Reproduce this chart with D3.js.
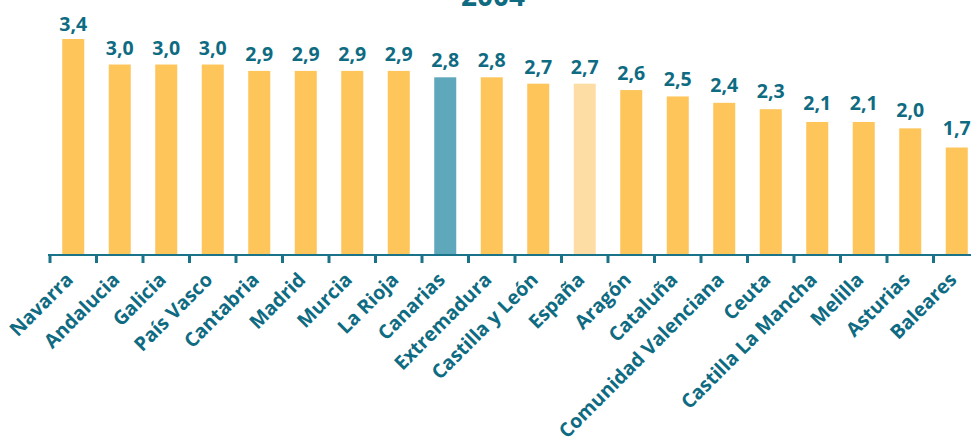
<!DOCTYPE html>
<html>
<head>
    <meta charset="utf-8">
    <script src="https://d3js.org/d3.v7.min.js"></script>
    <style>
        body { margin: 0; background: #fff; }
        svg text { font-family: 'Open Sans', 'Noto Sans', sans-serif; font-weight: 700; fill: #0e6b82; }
    </style>
</head>
<body>
<div id="chart"></div>
<script>
    // Data
    const regions = ["Navarra", "Andalucia", "Galicia", "País Vasco", "Cantabria", "Madrid", "Murcia",
        "La Rioja", "Canarias", "Extremadura", "Castilla y León", "España", "Aragón", "Cataluña",
        "Comunidad Valenciana", "Ceuta", "Castilla La Mancha", "Melilla", "Asturias", "Baleares"];
    const values = [3.4, 3.0, 3.0, 3.0, 2.9, 2.9, 2.9, 2.9, 2.8, 2.8, 2.7, 2.7, 2.6, 2.5, 2.4, 2.3, 2.1, 2.1, 2.0, 1.7];
    const title = "2004";

    const width = 971, height = 440;
    const baseY = 256;

    const data = regions.map((r, i) => ({ region: r, value: values[i] }));

    const svg = d3.select("#chart").append("svg")
        .attr("width", width)
        .attr("height", height);

    const x = d3.scaleBand()
        .domain(regions)
        .range([50, 50 + 46.5 * regions.length])
        .padding(0);

    const y = d3.scaleLinear()
        .domain([0, 3.4])
        .range([baseY, 39]);

    // labels sit on a slightly flatter scale than the bars
    const yLabel = d3.scaleLinear()
        .domain([1.7, 3.4])
        .range([135, 30.5]);

    const barW = 22;

    function barColor(r) {
        if (r === "Canarias") return "#5fa8bc";
        if (r === "España") return "#fedda5";
        return "#fdc55a";
    }

    // title (cut off at the top)
    svg.append("text")
        .attr("x", 493)
        .attr("y", 6)
        .attr("text-anchor", "middle")
        .style("font-size", "28px")
        .text(title);

    // bars
    svg.selectAll(".bar")
        .data(data)
        .enter().append("rect")
        .attr("class", "bar")
        .attr("x", d => x(d.region) + x.bandwidth() / 2 - barW / 2)
        .attr("y", d => y(d.value))
        .attr("width", barW)
        .attr("height", d => y(0) - y(d.value))
        .attr("fill", d => barColor(d.region));

    // value labels
    svg.selectAll(".val")
        .data(data)
        .enter().append("text")
        .attr("class", "val")
        .attr("x", d => x(d.region) + x.bandwidth() / 2)
        .attr("y", d => yLabel(d.value))
        .attr("text-anchor", "middle")
        .style("font-size", "19.5px")
        .text(d => d.value.toFixed(1).replace(".", ","));

    // axis
    const axis = svg.append("g");
    axis.append("line")
        .attr("x1", 48).attr("x2", width)
        .attr("y1", baseY - 1).attr("y2", baseY - 1)
        .attr("stroke", "#1a7389")
        .attr("stroke-width", 2);

    axis.selectAll(".tick")
        .data(regions)
        .enter().append("line")
        .attr("x1", d => x(d)).attr("x2", d => x(d))
        .attr("y1", baseY - 1).attr("y2", baseY + 7)
        .attr("stroke", "#1a7389")
        .attr("stroke-width", 3);

    // category labels
    svg.selectAll(".cat")
        .data(regions)
        .enter().append("text")
        .attr("class", "cat")
        .attr("text-anchor", "end")
        .attr("transform", d => `translate(${x(d) + x.bandwidth() / 2 + 1},${baseY + 25}) rotate(-45)`)
        .style("font-size", "19.5px")
        .text(d => d);
</script>
</body>
</html>
